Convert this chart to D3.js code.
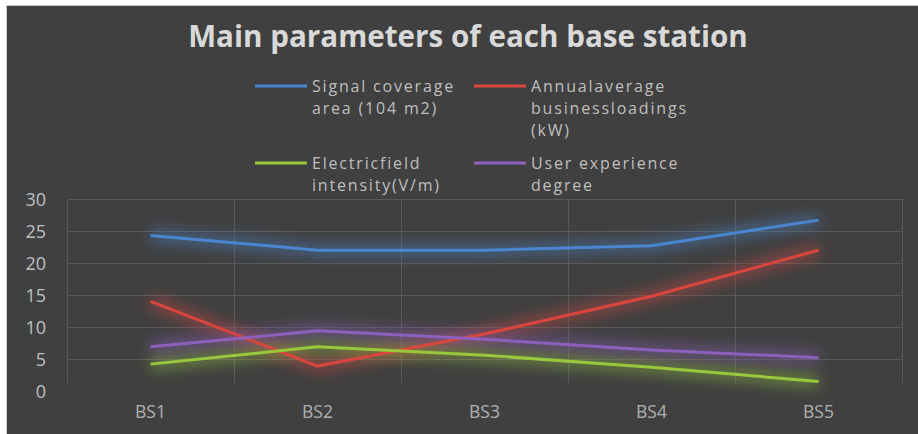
<!DOCTYPE html>
<html><head><meta charset="utf-8">
<script src="https://cdn.jsdelivr.net/npm/d3@7"></script>
<style>
html,body{margin:0;padding:0;background:#fff;}
svg{display:block;}
</style></head>
<body>
<svg id="chart" width="918" height="434"></svg>
<script>
const categories = ["BS1","BS2","BS3","BS4","BS5"];
const seriesNames = [
  ["Signal coverage","area (104 m2)"],
  ["Annualaverage","businessloadings","(kW)"],
  ["Electricfield","intensity(V/m)"],
  ["User experience","degree"]
];
const signalCoverage = [24.3, 22.0, 22.0, 22.7, 26.7];
const businessLoad = [14.0, 3.9, 8.9, 14.8, 22.0];
const electricField = [4.2, 6.9, 5.6, 3.7, 1.5];
const userExperience = [6.9, 9.4, 8.1, 6.4, 5.2];
const yTicks = [0,5,10,15,20,25,30];
const colors = ["#4a86d0","#d9453f","#98c83c","#8e60bd"];
const seriesValues = [signalCoverage, businessLoad, electricField, userExperience];

const svg = d3.select("#chart");
const font = "'Open Sans', Lato, sans-serif";

svg.append("rect").attr("x",6.5).attr("y",5.5).attr("width",912).attr("height",429).attr("fill","#404040")
  .attr("stroke","#c8c8c8").attr("stroke-width",1);

// title
const title = svg.append("text").attr("x",468).attr("y",47).attr("text-anchor","middle")
  .attr("font-family",font).attr("font-weight","bold").attr("font-size",26)
  .attr("fill","#d9d9d9").text("Main parameters of each base station");
const tw = title.node().getBBox().width;
title.attr("font-size", 26*560/tw);

const left = 67, right = 902;
const x = d3.scaleBand().domain(categories).range([left,right]);
const y = d3.scaleLinear().domain([0,30]).range([391,199]);

const defs = svg.append("defs");
colors.forEach((c,i)=>{
  const f = defs.append("filter").attr("id","glow"+i).attr("x","-20%").attr("y","-60%").attr("width","140%").attr("height","220%");
  f.append("feGaussianBlur").attr("in","SourceGraphic").attr("stdDeviation",7);
});

// grid
const g = svg.append("g");
g.selectAll(".hg").data(yTicks.filter(d=>d>0)).join("line")
  .attr("x1",left).attr("x2",right).attr("y1",d=>y(d)+0.5).attr("y2",d=>y(d)+0.5)
  .attr("stroke","#595959").attr("stroke-width",1);
const bounds = categories.map(c=>x(c)).concat([right]);
g.selectAll(".vg").data(bounds).join("line")
  .attr("x1",d=>Math.round(d)+0.5).attr("x2",d=>Math.round(d)+0.5).attr("y1",y(30)).attr("y2",y(0)-8)
  .attr("stroke","#595959").attr("stroke-width",1);

// y axis labels
const yAxis = d3.axisLeft(y).tickValues(yTicks).tickSize(0).tickPadding(0);
const ya = svg.append("g").attr("transform","translate(46,0)").call(yAxis);
ya.select(".domain").remove();
ya.selectAll("text").attr("font-family",font).attr("font-size",18).attr("fill","#bfbfbf").attr("dy","0.35em");

// x axis labels
const xAxis = d3.axisBottom(x).tickSize(0).tickPadding(0);
const xa = svg.append("g").attr("transform","translate(0,405)").call(xAxis);
xa.select(".domain").remove();
xa.selectAll("text").attr("font-family",font).attr("font-size",17.5).attr("fill","#b0b0b0").attr("dy","0.72em");

// lines
const line = d3.line().x((d,i)=>x(categories[i])+x.bandwidth()/2).y(d=>y(d));
seriesValues.forEach((vals,i)=>{
  svg.append("path").attr("d",line(vals)).attr("fill","none").attr("stroke",colors[i])
    .attr("stroke-width",12).attr("stroke-opacity",0.5).attr("filter","url(#glow"+i+")");
});
seriesValues.forEach((vals,i)=>{
  svg.append("path").attr("d",line(vals)).attr("fill","none").attr("stroke",colors[i])
    .attr("stroke-width",3).attr("stroke-linejoin","round");
});

// legend
const legPos = [[255,86],[474,86],[255,163],[474,163]];
const legFont = 16;
const probe = svg.append("text").attr("font-family",font).attr("font-size",legFont).text("Signal coverage");
const ls = (143 - probe.node().getBBox().width)/15;
probe.remove();
seriesNames.forEach((lines,i)=>{
  const [lx,ly] = legPos[i];
  svg.append("line").attr("x1",lx).attr("x2",lx+52).attr("y1",ly).attr("y2",ly)
    .attr("stroke",colors[i]).attr("stroke-width",3);
  const t = svg.append("text").attr("x",lx+57).attr("y",ly).attr("font-family",font)
    .attr("font-size",legFont).attr("letter-spacing",ls).attr("fill","#bfbfbf");
  lines.forEach((s,j)=>{
    t.append("tspan").attr("x",lx+57).attr("y",ly+j*22).attr("dy","0.35em").text(s);
  });
});
</script>
</body></html>
